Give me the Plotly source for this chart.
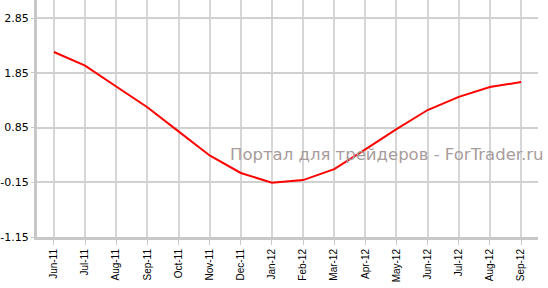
import plotly.graph_objects as go

months = ["Jun-11", "Jul-11", "Aug-11", "Sep-11", "Oct-11", "Nov-11", "Dec-11", "Jan-12",
          "Feb-12", "Mar-12", "Apr-12", "May-12", "Jun-12", "Jul-12", "Aug-12", "Sep-12"]
values = [2.23, 1.98, 1.60, 1.22, 0.78, 0.34, 0.02, -0.16,
          -0.11, 0.09, 0.45, 0.82, 1.17, 1.41, 1.59, 1.68]
y_ticks = [-1.15, -0.15, 0.85, 1.85, 2.85]
y_tick_labels = ["-1.15", "-0.15", "0.85", "1.85", "2.85"]
watermark = "Портал для трейдеров - ForTrader.ru"

fig = go.Figure()
fig.add_trace(go.Scatter(x=months, y=values, mode="lines",
                         line=dict(color="#ff0000", width=2), hoverinfo="skip"))

fig.update_layout(
    width=548, height=288,
    margin=dict(l=35, r=10, t=0, b=51),
    paper_bgcolor="white", plot_bgcolor="white",
    showlegend=False,
    xaxis=dict(
        type="category", range=[-0.544, 15.544],
        showgrid=True, gridcolor="#d6d6d6", gridwidth=1.5,
        showline=True, linecolor="#c8c8c8", linewidth=3,
        ticks="outside", ticklen=5, tickcolor="#c8c8c8", tickwidth=1,
        tickangle=-90, tickfont=dict(family="Liberation Sans, Arial", size=10, color="#000"),
        zeroline=False,
    ),
    yaxis=dict(
        range=[-1.15, 3.18],
        tickvals=y_ticks, ticktext=y_tick_labels,
        showgrid=True, gridcolor="#d0d0d0", gridwidth=1.5,
        showline=True, linecolor="#c8c8c8", linewidth=3,
        ticks="outside", ticklen=3, tickcolor="#c8c8c8", tickwidth=1,
        tickfont=dict(family="DejaVu Sans, Verdana", size=11, color="#000"),
        zeroline=False,
    ),
    annotations=[dict(
        text=watermark, xref="paper", yref="paper",
        x=0.699, y=0.35, xanchor="center", yanchor="middle",
        showarrow=False,
        font=dict(family="DejaVu Sans, Verdana", size=16.5, color="#a89c9c"),
    )],
)

fig.write_html("out.html")
